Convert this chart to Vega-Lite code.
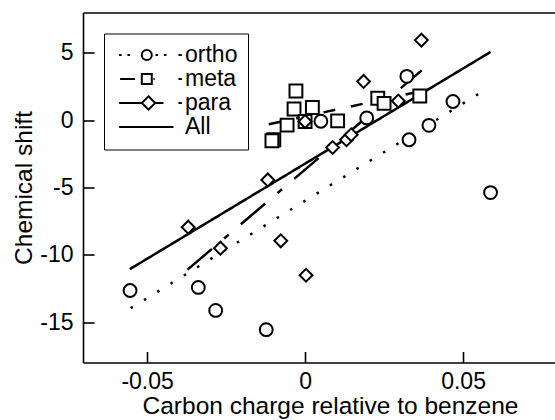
{
  "$schema": "https://vega.github.io/schema/vega-lite/v6.json",
  "width": 472,
  "height": 350,
  "autosize": {"type": "none"},
  "padding": {"left": 83, "top": 12.5, "right": 0, "bottom": 57.5},
  "background": "white",
  "config": {
    "view": {"stroke": null},
    "font": "Liberation Sans",
    "axis": {
      "labelFont": "Liberation Sans",
      "labelFontSize": 23,
      "labelColor": "black",
      "titleFont": "Liberation Sans",
      "titleFontSize": 24.5,
      "titleFontWeight": "normal",
      "titleColor": "black",
      "tickColor": "black",
      "tickWidth": 1.6,
      "tickSize": -11,
      "domainColor": "black",
      "domainWidth": 1.6,
      "grid": false
    }
  },
  "datasets": {
    "points": [
      {"series": "meta", "x": -0.0029, "y": 2.17},
      {"series": "meta", "x": -0.0035, "y": 0.83},
      {"series": "meta", "x": 0.0023, "y": 0.94},
      {"series": "meta", "x": -0.0057, "y": -0.37},
      {"series": "meta", "x": -0.0099, "y": -1.45},
      {"series": "meta", "x": -0.0105, "y": -1.53},
      {"series": "meta", "x": 0.0103, "y": -0.05},
      {"series": "meta", "x": 0.0, "y": -0.1},
      {"series": "meta", "x": 0.023, "y": 1.63},
      {"series": "meta", "x": 0.025, "y": 1.25},
      {"series": "meta", "x": 0.0363, "y": 1.8},
      {"series": "ortho", "x": -0.0554, "y": -12.65},
      {"series": "ortho", "x": -0.0338, "y": -12.42},
      {"series": "ortho", "x": -0.0283, "y": -14.13},
      {"series": "ortho", "x": -0.0123, "y": -15.56},
      {"series": "ortho", "x": 0.005, "y": -0.08},
      {"series": "ortho", "x": 0.0195, "y": 0.17},
      {"series": "ortho", "x": 0.0322, "y": 3.26},
      {"series": "ortho", "x": 0.0329, "y": -1.45},
      {"series": "ortho", "x": 0.0392, "y": -0.38},
      {"series": "ortho", "x": 0.0468, "y": 1.39},
      {"series": "ortho", "x": 0.0587, "y": -5.38},
      {"series": "para", "x": -0.037, "y": -7.95},
      {"series": "para", "x": -0.0268, "y": -9.51},
      {"series": "para", "x": -0.0118, "y": -4.44},
      {"series": "para", "x": -0.0077, "y": -8.96},
      {"series": "para", "x": 0.0003, "y": -11.52},
      {"series": "para", "x": 0.0, "y": -0.1},
      {"series": "para", "x": 0.0087, "y": -2.03},
      {"series": "para", "x": 0.0131, "y": -1.45},
      {"series": "para", "x": 0.0146, "y": -1.08},
      {"series": "para", "x": 0.0185, "y": 2.88},
      {"series": "para", "x": 0.0295, "y": 1.42},
      {"series": "para", "x": 0.0368, "y": 5.95}
    ],
    "fits": [
      {"fit": "ortho", "x": -0.0552, "y": -13.97},
      {"fit": "ortho", "x": 0.0551, "y": 1.98},
      {"fit": "meta", "x": -0.0115, "y": -0.3},
      {"fit": "meta", "x": 0.0364, "y": 2.14},
      {"fit": "para", "x": -0.0372, "y": -11.1},
      {"fit": "para", "x": 0.0369, "y": 3.7},
      {"fit": "All", "x": -0.0555, "y": -11.07},
      {"fit": "All", "x": 0.0587, "y": 5.07}
    ]
  },
  "encoding": {
    "y": {
      "field": "y",
      "type": "quantitative",
      "scale": {"domain": [-18, 8], "nice": false, "zero": false},
      "axis": {
        "title": "Chemical shift",
        "values": [-15, -10, -5, 0, 5],
        "labelExpr": "replace(datum.label, '\u2212', '-')",
        "labelPadding": 21,
        "titlePadding": 3
      }
    }
  },
  "layer": [
    {
      "data": {"name": "fits"},
      "mark": {"type": "line", "stroke": "black", "strokeWidth": 2.5, "strokeCap": "butt"},
      "encoding": {
        "x": {
          "field": "x",
          "type": "quantitative",
          "scale": {"domain": [-0.0703, 0.0791], "nice": false, "zero": false},
          "axis": {
            "title": "Carbon charge relative to benzene",
            "values": [-0.05, 0, 0.05],
            "labelExpr": "datum.value == 0 ? '0' : replace(format(datum.value, '.2f'), '\u2212', '-')",
            "labelPadding": 19,
            "titlePadding": 1,
            "titleX": 247
          }
        },
        "detail": {"field": "fit", "type": "nominal"},
        "strokeDash": {
          "field": "fit",
          "type": "nominal",
          "scale": {
            "domain": ["ortho", "meta", "para", "All"],
            "range": [[2.5, 13.1], [12, 16], [32, 16, 6, 16], [1, 0]]
          },
          "legend": null
        }
      }
    },
    {
      "data": {"name": "fits"},
      "mark": {"type": "point", "filled": false, "color": "black", "opacity": 0},
      "encoding": {
        "x": {
          "field": "x",
          "type": "quantitative",
          "scale": {"domain": [-0.0703, 0.0791], "nice": false, "zero": false},
          "axis": null
        },
        "shape": {
          "field": "fit",
          "type": "nominal",
          "scale": {
            "domain": ["ortho", "meta", "para", "All"],
            "range": [
              "M-0.64,0h0.25M0.2,0h0.25M2.63,0A0.5,0.5 0 1,1 1.63,0A0.5,0.5 0 1,1 2.63,0ZM3.0,0h0.25M3.84,0h0.25M5.3,0h0.33",
              "M-0.54,0H0.96M1.63,-0.5h1v1h-1ZM2.8,0h0.12M5.3,0h0.33",
              "M-0.64,0H1.63M2.3,-0.67L2.97,0L2.3,0.67L1.63,0ZM2.97,0H3.8M5.3,0h0.33",
              "M-0.64,0H4.8"
            ]
          },
          "legend": {
            "title": null,
            "orient": "top-left",
            "offset": 21,
            "padding": 10,
            "strokeColor": "black",
            "labelFont": "Liberation Sans",
            "labelFontSize": 23,
            "labelColor": "black",
            "labelOffset": 48,
            "symbolSize": 400,
            "symbolOpacity": 1,
            "symbolStrokeWidth": 2,
            "rowPadding": -9
          }
        }
      }
    },
    {
      "data": {"name": "points"},
      "mark": {"type": "point", "filled": true, "fill": "white", "stroke": "black", "strokeWidth": 2, "size": 165, "opacity": 1},
      "encoding": {
        "x": {
          "field": "x",
          "type": "quantitative",
          "scale": {"domain": [-0.0703, 0.0791], "nice": false, "zero": false},
          "axis": {"orient": "top", "labels": false, "ticks": false, "title": null, "domain": true}
        },
        "shape": {
          "field": "series",
          "type": "nominal",
          "scale": {
            "domain": ["ortho", "meta", "para"],
            "range": ["circle", "square", "diamond"]
          },
          "legend": null
        }
      }
    }
  ],
  "resolve": {"axis": {"x": "independent"}, "scale": {"shape": "independent"}}
}
